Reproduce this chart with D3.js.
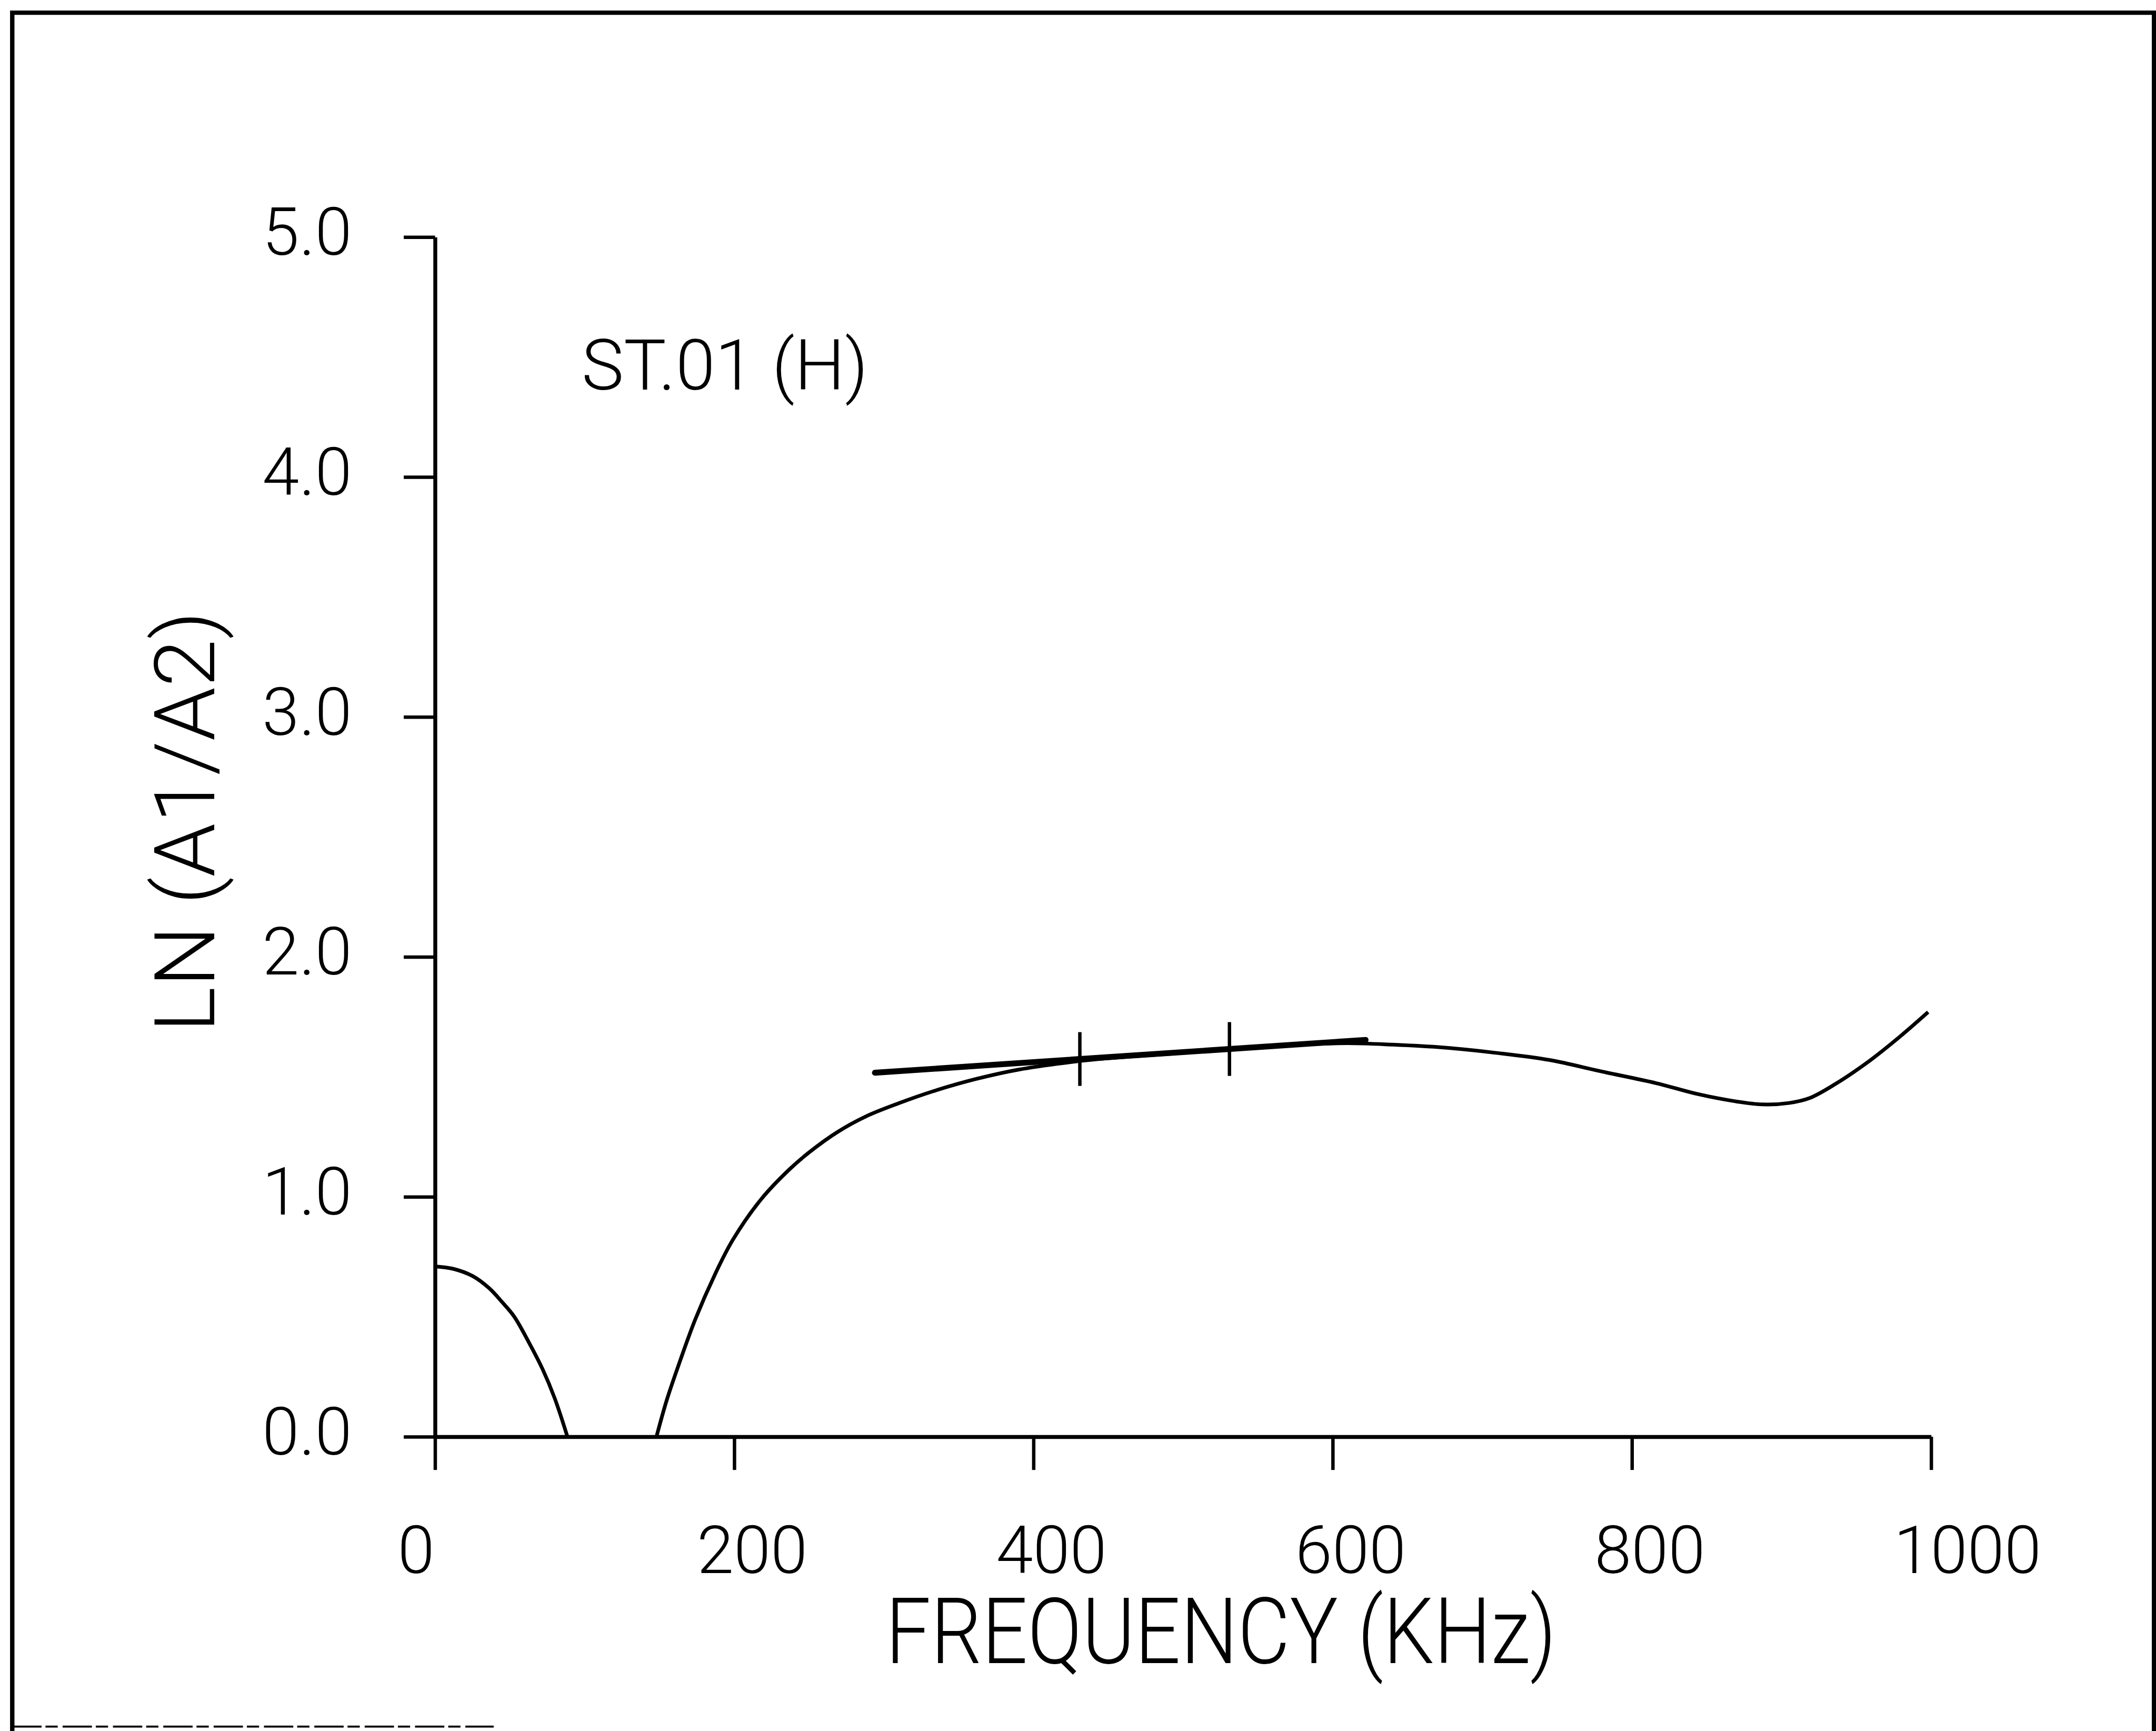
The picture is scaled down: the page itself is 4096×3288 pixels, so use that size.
<!DOCTYPE html>
<html>
<head>
<meta charset="utf-8">
<script src="https://cdn.jsdelivr.net/npm/d3@7"></script>
<style>
  html, body { margin: 0; padding: 0; background: #fff; overflow: hidden; }
  svg { display: block; }
  text { font-family: Roboto, "DejaVu Sans", sans-serif; font-weight: 300; fill: #000; }
</style>
</head>
<body>
<div id="chart"></div>
<script>
// data (frequency in KHz, LN(A1/A2))
var lobeFreq = [0, 12, 25, 36, 45, 53, 63, 72, 80, 88.5];
var lobeVal  = [0.71, 0.70, 0.67, 0.62, 0.56, 0.50, 0.39, 0.28, 0.16, 0.0];

var mainFreq = [148, 155, 164, 174, 187, 199, 218, 237, 250, 269, 288, 310, 333, 361, 390, 431, 461, 500, 532, 570, 610, 640, 674, 709, 745, 780, 816, 844, 869, 887, 905, 919, 936, 958, 979, 998];
var mainVal  = [0.0, 0.155, 0.32, 0.49, 0.675, 0.82, 0.99, 1.115, 1.185, 1.27, 1.335, 1.39, 1.44, 1.49, 1.53, 1.566, 1.583, 1.60, 1.618, 1.632, 1.64, 1.634, 1.622, 1.60, 1.57, 1.522, 1.474, 1.428, 1.398, 1.385, 1.391, 1.412, 1.470, 1.563, 1.667, 1.77];

// fitted straight line and its two marks
var fitFreq = [294, 622];
var fitVal  = [1.517, 1.654];
var markFreq = [431, 531];

var xTicks = [0, 200, 400, 600, 800, 1000];
var yTicks = [0, 1, 2, 3, 4, 5];

var xTitle = "FREQUENCY (KHz)";
var yTitle = "LN (A1/A2)";
var stationLabel = "ST.01 (H)";

// laid out in the reference's pixel space, the viewBox scales it to the window
var refW = 4411, refH = 3541;

var svg = d3.select("#chart").append("svg")
    .attr("width", 4096)
    .attr("height", 3288)
    .attr("viewBox", "0 0 " + refW + " " + refH);

svg.append("rect").attr("width", refW).attr("height", refH).attr("fill", "#fff");

var x = d3.scaleLinear().domain([0, 1000]).range([890, 3951]);
var y = d3.scaleLinear().domain([0, 5]).range([2939, 485]);

// page frame (bottom edge only partly printed)
svg.append("path")
    .attr("d", "M25,3541V26H4407V3541")
    .attr("fill", "none").attr("stroke", "#000").attr("stroke-width", 9);
svg.append("path")
    .attr("d", "M25,3532H1010")
    .attr("fill", "none").attr("stroke", "#000").attr("stroke-width", 4)
    .attr("stroke-dasharray", "60 8 25 10");

// axes
var xAxis = d3.axisBottom(x).tickValues(xTicks).tickSize(68).tickSizeOuter(0)
    .tickFormat(d3.format("d"));
var yAxis = d3.axisLeft(y).tickValues(yTicks).tickSize(64).tickSizeOuter(0)
    .tickFormat(d3.format(".1f"));

var gx = svg.append("g").attr("transform", "translate(0," + y(0) + ")").call(xAxis);
var gy = svg.append("g").attr("transform", "translate(" + x(0) + ",0)").call(yAxis);

[gx, gy].forEach(function(g) {
  g.select(".domain").attr("stroke", "#000").attr("stroke-width", 8);
  g.selectAll(".tick line").attr("stroke", "#000").attr("stroke-width", 7);
  g.selectAll(".tick text")
    .attr("font-family", "Roboto, 'DejaVu Sans', sans-serif")
    .attr("font-weight", 300)
    .attr("font-size", 136)
    .attr("fill", "#000");
});

gx.selectAll(".tick text")
    .attr("text-anchor", "start")
    .attr("x", -77)
    .attr("y", 3218 - y(0))
    .attr("dy", 0);

gy.selectAll(".tick text")
    .attr("text-anchor", "end")
    .attr("x", -(x(0) - 720))
    .attr("dy", 0)
    .attr("y", 36);

// curves
var line = d3.line()
    .x(function(d) { return x(d[0]); })
    .y(function(d) { return y(d[1]); })
    .curve(d3.curveCatmullRom.alpha(0.5));

var lobe = d3.zip(lobeFreq, lobeVal);
var main = d3.zip(mainFreq, mainVal);
var fit = d3.zip(fitFreq, fitVal);

svg.append("path").datum(lobe).attr("d", line)
    .attr("fill", "none").attr("stroke", "#000").attr("stroke-width", 7.5);
svg.append("path").datum(main).attr("d", line)
    .attr("fill", "none").attr("stroke", "#000").attr("stroke-width", 7.5);

svg.append("path").datum(fit)
    .attr("d", d3.line().x(function(d) { return x(d[0]); }).y(function(d) { return y(d[1]); }))
    .attr("fill", "none").attr("stroke", "#000").attr("stroke-width", 12)
    .attr("stroke-linecap", "round");

var fitAt = d3.scaleLinear().domain(fitFreq).range(fitVal);
svg.selectAll("line.mark").data(markFreq).enter().append("line")
    .attr("class", "mark")
    .attr("x1", function(d) { return x(d); })
    .attr("x2", function(d) { return x(d); })
    .attr("y1", function(d) { return y(fitAt(d)) - 55; })
    .attr("y2", function(d) { return y(fitAt(d)) + 55; })
    .attr("stroke", "#000").attr("stroke-width", 7);

// titles
svg.append("text")
    .attr("x", 1812)
    .attr("y", 3402)
    .attr("font-size", 188)
    .attr("textLength", 1372)
    .attr("lengthAdjust", "spacingAndGlyphs")
    .text(xTitle);

svg.append("text")
    .attr("transform", "translate(438,1681) rotate(-90)")
    .attr("text-anchor", "middle")
    .attr("font-size", 172)
    .attr("textLength", 862)
    .attr("lengthAdjust", "spacingAndGlyphs")
    .text(yTitle);

svg.append("text")
    .attr("x", 1190)
    .attr("y", 797)
    .attr("font-size", 143)
    .attr("textLength", 586)
    .attr("lengthAdjust", "spacingAndGlyphs")
    .text(stationLabel);
</script>
</body>
</html>
